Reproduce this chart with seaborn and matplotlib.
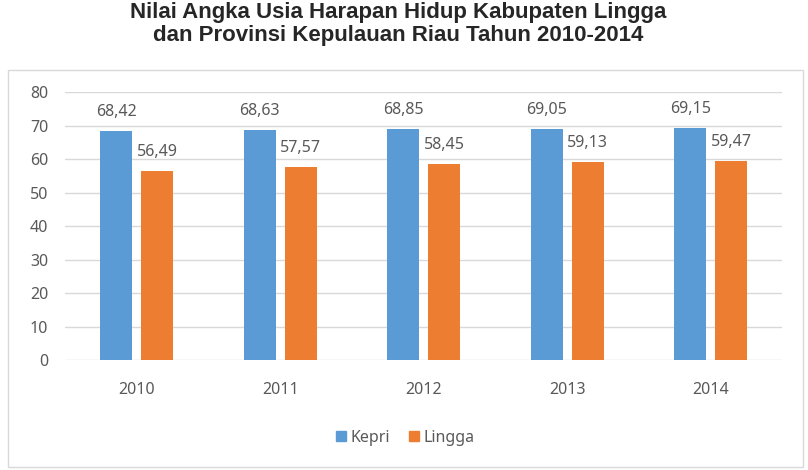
import pandas as pd
import matplotlib.pyplot as plt
import seaborn as sns
from matplotlib.patches import Rectangle

# data
years = ['2010', '2011', '2012', '2013', '2014']
kepri = [68.42, 68.63, 68.85, 69.05, 69.15]
lingga = [56.49, 57.57, 58.45, 59.13, 59.47]
series = ['Kepri', 'Lingga']
colors = ['#5B9BD5', '#ED7D31']
title = 'Nilai Angka Usia Harapan Hidup Kabupaten Lingga\ndan Provinsi Kepulauan Riau Tahun 2010-2014'

df = pd.DataFrame({
    'Tahun': years * 2,
    'Nilai': kepri + lingga,
    'Wilayah': ['Kepri'] * len(years) + ['Lingga'] * len(years),
})

sns.set_style('white')
plt.rcParams['font.family'] = ['Noto Sans', 'DejaVu Sans']
text_col = '#595959'
fs = 11.5

fig = plt.figure(figsize=(8.08, 4.70), dpi=100)
ax = fig.add_axes([0.0804, 0.234, 0.888, 0.570])

sns.barplot(data=df, x='Tahun', y='Nilai', hue='Wilayah', hue_order=series,
            palette=colors, width=0.57, gap=0.22, saturation=1,
            linewidth=0, legend=False, ax=ax)

# label angka pakai koma desimal
for cont, vals in zip(ax.containers, [kepri, lingga]):
    ax.bar_label(cont, labels=[f'{v:.2f}'.replace('.', ',') for v in vals],
                 padding=8, fontsize=fs, color=text_col)

ax.set_ylim(0, 80)
ax.set_yticks(range(0, 81, 10))
ax.set_xlim(-0.5, 4.5)
ax.set_xlabel('')
ax.set_ylabel('')
ax.grid(axis='y', color='#d9d9d9', linewidth=1)
ax.set_axisbelow(True)
for s in ax.spines.values():
    s.set_visible(False)
ax.tick_params(axis='y', length=0, pad=12, labelsize=fs, labelcolor=text_col)
ax.tick_params(axis='x', length=0, pad=16, labelsize=fs, labelcolor=text_col)

# legend
handles = [plt.Line2D([], [], marker='s', linestyle='', markersize=7,
                      color=c) for c in colors]
fig.legend(handles, series, loc='center', bbox_to_anchor=(0.5, 0.068),
           ncol=2, frameon=False, fontsize=fs, labelcolor=text_col,
           handletextpad=0.1, columnspacing=1.0, handlelength=1.0)

# chart border
fig.patches.append(Rectangle((8 / 808, 3 / 470), 795 / 808, 397 / 470,
                             transform=fig.transFigure, fill=False,
                             edgecolor='#d9d9d9', linewidth=1))

fig.text(0.493, 0.995, title, ha='center', va='top', fontsize=16,
         fontweight='bold', family=['Liberation Sans', 'DejaVu Sans'],
         linespacing=1.1)

fig.savefig('out.png', dpi=100)
